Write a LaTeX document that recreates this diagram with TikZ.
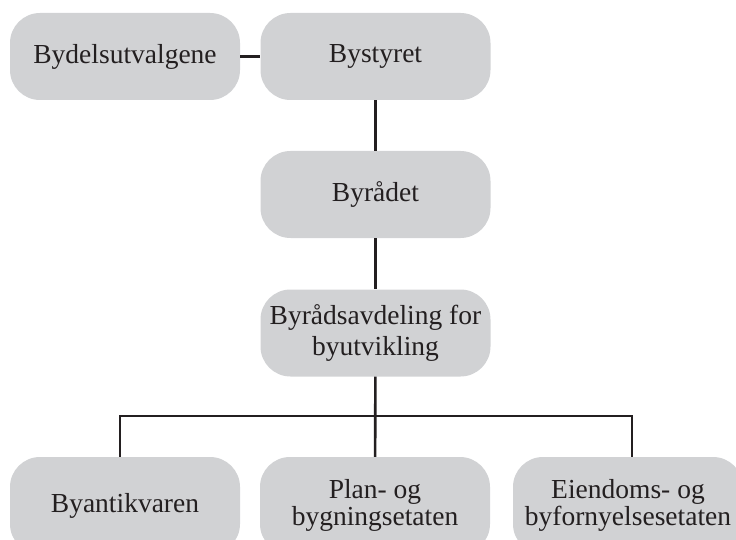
\documentclass[tikz,border=0pt]{standalone}
\usepackage{fontspec}
\setmainfont{Liberation Serif}
\definecolor{boxgray}{HTML}{D1D2D4}
\definecolor{ink}{HTML}{231F20}
\begin{document}
\begin{tikzpicture}[x=1pt,y=-1pt,
  orgbox/.style={fill=boxgray, draw=none, rounded corners=30pt,
    minimum width=230pt, minimum height=87pt, inner sep=0pt,
    align=center, text=ink, font=\fontsize{27.5}{29}\selectfont},
  lowbox/.style={orgbox, minimum height=97pt, font=\fontsize{27.5}{27.5}\selectfont},
  link/.style={draw=ink, line width=2.6pt}]
\useasboundingbox (0,0) rectangle (736,540);
\begin{scope}
\clip (0,0) rectangle (736,540);
\node[orgbox] (b1) at (125,56.5) {Bydelsutvalgene};
\node[orgbox] (b2) at (375.5,56.5) {Bystyret};
\node[orgbox] (b3) at (375.5,194.5) {Byrådet};
\node[orgbox, font=\fontsize{27.5}{31}\selectfont] (b4) at (375.5,333) {Byrådsavdeling for\\byutvikling};
\node[lowbox] (b5) at (125,505.5) {Byantikvaren};
\node[lowbox] (b6) at (375,505.5) {Plan- og\\bygningsetaten};
\node[lowbox] (b7) at (628,505.5) {Eiendoms- og\\byfornyelsesetaten};
\coordinate (j) at (375.5,416);
\draw[link] (b1) -- (b2);
\draw[link] (b2) -- (b3);
\draw[link] (b3) -- (b4);
\draw[link] (b4) -- (b6);
\draw[link] ([xshift=-5pt]b5.north) |- (j) -| ([xshift=4pt]b7.north);
\end{scope}
\end{tikzpicture}
\end{document}
